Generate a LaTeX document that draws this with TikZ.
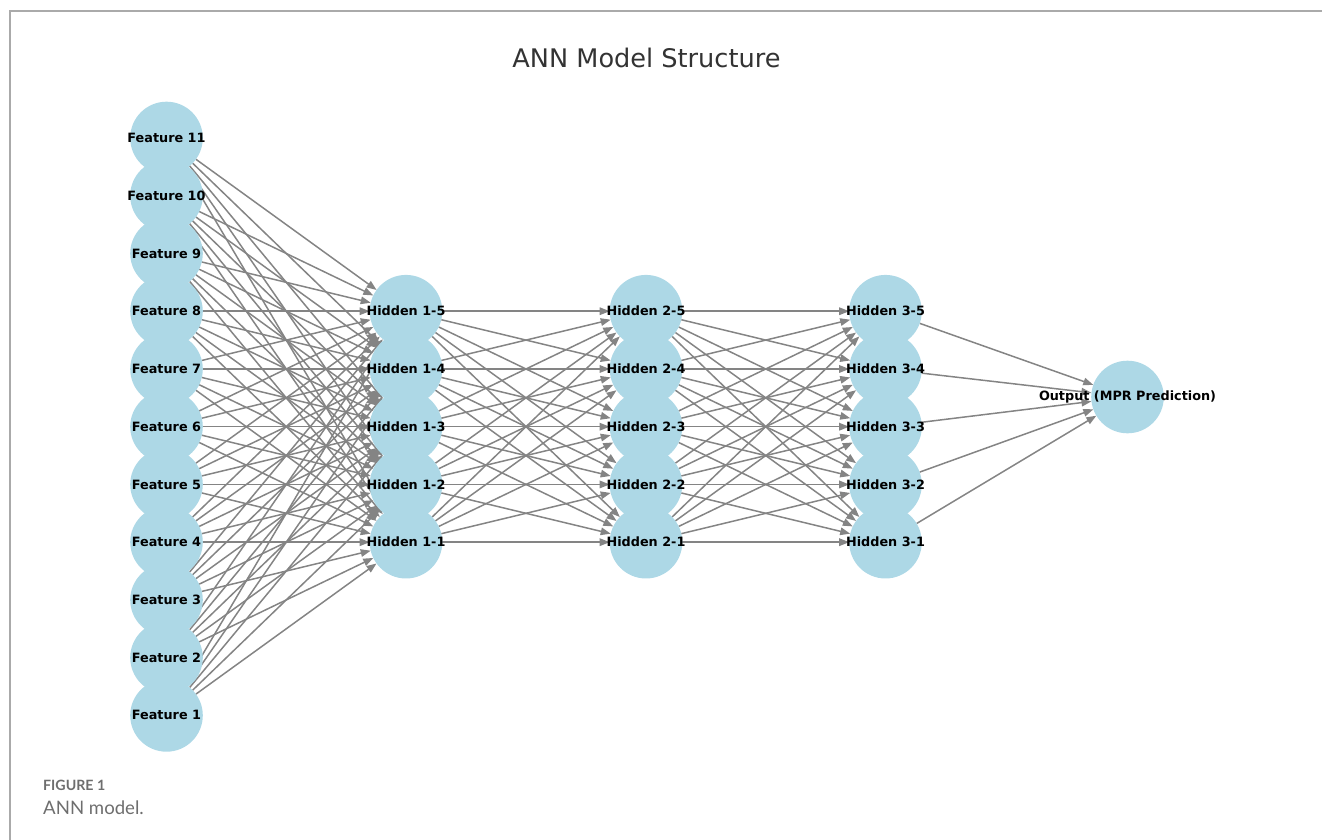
\documentclass[tikz,border=0pt]{standalone}
\usepackage{fontspec}
\usepackage{tikz}
\usetikzlibrary{arrows.meta}
\newfontfamily\dejavu{DejaVu Sans}
\newfontfamily\capfont{Lato}
\definecolor{nodeblue}{RGB}{173,216,230}
\definecolor{edgegray}{RGB}{132,132,132}
\definecolor{titlegray}{RGB}{51,51,51}
\definecolor{framegray}{RGB}{170,170,170}
\definecolor{capgray}{RGB}{110,110,110}
\pgfdeclarelayer{background}
\pgfsetlayers{background,main}

\begin{document}
\begin{tikzpicture}[x=1pt,y=-1pt]
  \tikzset{VertexStyle/.style = {
    shape         = circle,
    draw          = none,
    fill          = nodeblue,
    inner sep     = 0pt,
    outer sep     = 0pt,
    minimum size  = 72.6pt,
    label distance = 0pt
    }
  }
  \tikzset{every label/.style = {
    text          = black,
    inner sep     = 0pt,
    font          = \dejavu\bfseries\fontsize{12.8}{15}\selectfont
    }
  }
  \tikzset{EdgeStyle/.style = {
    draw          = edgegray,
    line width    = 1.5pt,
    -{Triangle[length=10pt,width=7.5pt]}
    }
  }
  \tikzset{TitleStyle/.style = {
    text          = titlegray,
    inner sep     = 0pt,
    font          = \dejavu\fontsize{25.6}{30}\selectfont
    }
  }
  \useasboundingbox (0,0) rectangle (1322,840);
  \draw[framegray, line width=1.3pt] (10,840) -- (10,11) -- (1322,11);

  \node[TitleStyle, anchor=base](T) at (646.5, 67.3) {ANN Model Structure};

	\node[VertexStyle, label=center:Feature 1](A1) at (166.5, 715.4) {};
	\node[VertexStyle, label=center:Feature 2](A2) at (166.5, 657.66) {};
	\node[VertexStyle, label=center:Feature 3](A3) at (166.5, 599.92) {};
	\node[VertexStyle, label=center:Feature 4](A4) at (166.5, 542.18) {};
	\node[VertexStyle, label=center:Feature 5](A5) at (166.5, 484.44) {};
	\node[VertexStyle, label=center:Feature 6](A6) at (166.5, 426.7) {};
	\node[VertexStyle, label=center:Feature 7](A7) at (166.5, 368.96) {};
	\node[VertexStyle, label=center:Feature 8](A8) at (166.5, 311.22) {};
	\node[VertexStyle, label=center:Feature 9](A9) at (166.5, 253.48) {};
	\node[VertexStyle, label=center:Feature 10](A10) at (166.5, 195.74) {};
	\node[VertexStyle, label=center:Feature 11](A11) at (166.5, 138) {};
	\node[VertexStyle, label=center:Hidden 1-1](B1) at (406, 542.18) {};
	\node[VertexStyle, label=center:Hidden 1-2](B2) at (406, 484.44) {};
	\node[VertexStyle, label=center:Hidden 1-3](B3) at (406, 426.7) {};
	\node[VertexStyle, label=center:Hidden 1-4](B4) at (406, 368.96) {};
	\node[VertexStyle, label=center:Hidden 1-5](B5) at (406, 311.22) {};
	\node[VertexStyle, label=center:Hidden 2-1](C1) at (646, 542.18) {};
	\node[VertexStyle, label=center:Hidden 2-2](C2) at (646, 484.44) {};
	\node[VertexStyle, label=center:Hidden 2-3](C3) at (646, 426.7) {};
	\node[VertexStyle, label=center:Hidden 2-4](C4) at (646, 368.96) {};
	\node[VertexStyle, label=center:Hidden 2-5](C5) at (646, 311.22) {};
	\node[VertexStyle, label=center:Hidden 3-1](D1) at (885.5, 542.18) {};
	\node[VertexStyle, label=center:Hidden 3-2](D2) at (885.5, 484.44) {};
	\node[VertexStyle, label=center:Hidden 3-3](D3) at (885.5, 426.7) {};
	\node[VertexStyle, label=center:Hidden 3-4](D4) at (885.5, 368.96) {};
	\node[VertexStyle, label=center:Hidden 3-5](D5) at (885.5, 311.22) {};
	\node[VertexStyle, label=center:Output (MPR Prediction)](E1) at (1127.5, 397) {};

  \begin{pgfonlayer}{background}
	\draw[EdgeStyle](A1) to (B1);
	\draw[EdgeStyle](A1) to (B2);
	\draw[EdgeStyle](A1) to (B3);
	\draw[EdgeStyle](A1) to (B4);
	\draw[EdgeStyle](A1) to (B5);
	\draw[EdgeStyle](A2) to (B1);
	\draw[EdgeStyle](A2) to (B2);
	\draw[EdgeStyle](A2) to (B3);
	\draw[EdgeStyle](A2) to (B4);
	\draw[EdgeStyle](A2) to (B5);
	\draw[EdgeStyle](A3) to (B1);
	\draw[EdgeStyle](A3) to (B2);
	\draw[EdgeStyle](A3) to (B3);
	\draw[EdgeStyle](A3) to (B4);
	\draw[EdgeStyle](A3) to (B5);
	\draw[EdgeStyle](A4) to (B1);
	\draw[EdgeStyle](A4) to (B2);
	\draw[EdgeStyle](A4) to (B3);
	\draw[EdgeStyle](A4) to (B4);
	\draw[EdgeStyle](A4) to (B5);
	\draw[EdgeStyle](A5) to (B1);
	\draw[EdgeStyle](A5) to (B2);
	\draw[EdgeStyle](A5) to (B3);
	\draw[EdgeStyle](A5) to (B4);
	\draw[EdgeStyle](A5) to (B5);
	\draw[EdgeStyle](A6) to (B1);
	\draw[EdgeStyle](A6) to (B2);
	\draw[EdgeStyle](A6) to (B3);
	\draw[EdgeStyle](A6) to (B4);
	\draw[EdgeStyle](A6) to (B5);
	\draw[EdgeStyle](A7) to (B1);
	\draw[EdgeStyle](A7) to (B2);
	\draw[EdgeStyle](A7) to (B3);
	\draw[EdgeStyle](A7) to (B4);
	\draw[EdgeStyle](A7) to (B5);
	\draw[EdgeStyle](A8) to (B1);
	\draw[EdgeStyle](A8) to (B2);
	\draw[EdgeStyle](A8) to (B3);
	\draw[EdgeStyle](A8) to (B4);
	\draw[EdgeStyle](A8) to (B5);
	\draw[EdgeStyle](A9) to (B1);
	\draw[EdgeStyle](A9) to (B2);
	\draw[EdgeStyle](A9) to (B3);
	\draw[EdgeStyle](A9) to (B4);
	\draw[EdgeStyle](A9) to (B5);
	\draw[EdgeStyle](A10) to (B1);
	\draw[EdgeStyle](A10) to (B2);
	\draw[EdgeStyle](A10) to (B3);
	\draw[EdgeStyle](A10) to (B4);
	\draw[EdgeStyle](A10) to (B5);
	\draw[EdgeStyle](A11) to (B1);
	\draw[EdgeStyle](A11) to (B2);
	\draw[EdgeStyle](A11) to (B3);
	\draw[EdgeStyle](A11) to (B4);
	\draw[EdgeStyle](A11) to (B5);
	\draw[EdgeStyle](B1) to (C1);
	\draw[EdgeStyle](B1) to (C2);
	\draw[EdgeStyle](B1) to (C3);
	\draw[EdgeStyle](B1) to (C4);
	\draw[EdgeStyle](B1) to (C5);
	\draw[EdgeStyle](B2) to (C1);
	\draw[EdgeStyle](B2) to (C2);
	\draw[EdgeStyle](B2) to (C3);
	\draw[EdgeStyle](B2) to (C4);
	\draw[EdgeStyle](B2) to (C5);
	\draw[EdgeStyle](B3) to (C1);
	\draw[EdgeStyle](B3) to (C2);
	\draw[EdgeStyle](B3) to (C3);
	\draw[EdgeStyle](B3) to (C4);
	\draw[EdgeStyle](B3) to (C5);
	\draw[EdgeStyle](B4) to (C1);
	\draw[EdgeStyle](B4) to (C2);
	\draw[EdgeStyle](B4) to (C3);
	\draw[EdgeStyle](B4) to (C4);
	\draw[EdgeStyle](B4) to (C5);
	\draw[EdgeStyle](B5) to (C1);
	\draw[EdgeStyle](B5) to (C2);
	\draw[EdgeStyle](B5) to (C3);
	\draw[EdgeStyle](B5) to (C4);
	\draw[EdgeStyle](B5) to (C5);
	\draw[EdgeStyle](C1) to (D1);
	\draw[EdgeStyle](C1) to (D2);
	\draw[EdgeStyle](C1) to (D3);
	\draw[EdgeStyle](C1) to (D4);
	\draw[EdgeStyle](C1) to (D5);
	\draw[EdgeStyle](C2) to (D1);
	\draw[EdgeStyle](C2) to (D2);
	\draw[EdgeStyle](C2) to (D3);
	\draw[EdgeStyle](C2) to (D4);
	\draw[EdgeStyle](C2) to (D5);
	\draw[EdgeStyle](C3) to (D1);
	\draw[EdgeStyle](C3) to (D2);
	\draw[EdgeStyle](C3) to (D3);
	\draw[EdgeStyle](C3) to (D4);
	\draw[EdgeStyle](C3) to (D5);
	\draw[EdgeStyle](C4) to (D1);
	\draw[EdgeStyle](C4) to (D2);
	\draw[EdgeStyle](C4) to (D3);
	\draw[EdgeStyle](C4) to (D4);
	\draw[EdgeStyle](C4) to (D5);
	\draw[EdgeStyle](C5) to (D1);
	\draw[EdgeStyle](C5) to (D2);
	\draw[EdgeStyle](C5) to (D3);
	\draw[EdgeStyle](C5) to (D4);
	\draw[EdgeStyle](C5) to (D5);
	\draw[EdgeStyle](D1) to (E1);
	\draw[EdgeStyle](D2) to (E1);
	\draw[EdgeStyle](D3) to (E1);
	\draw[EdgeStyle](D4) to (E1);
	\draw[EdgeStyle](D5) to (E1);
  \end{pgfonlayer}

  \node[anchor=base west, inner sep=0pt, text=capgray, font=\capfont\bfseries\fontsize{14.2}{17}\selectfont](CapA) at (43, 790) {FIGURE 1};
  \node[anchor=base west, inner sep=0pt, text=capgray, font=\capfont\fontsize{18.6}{22}\selectfont](CapB) at (43, 814.3) {ANN model.};

  \end{tikzpicture}
\end{document}
